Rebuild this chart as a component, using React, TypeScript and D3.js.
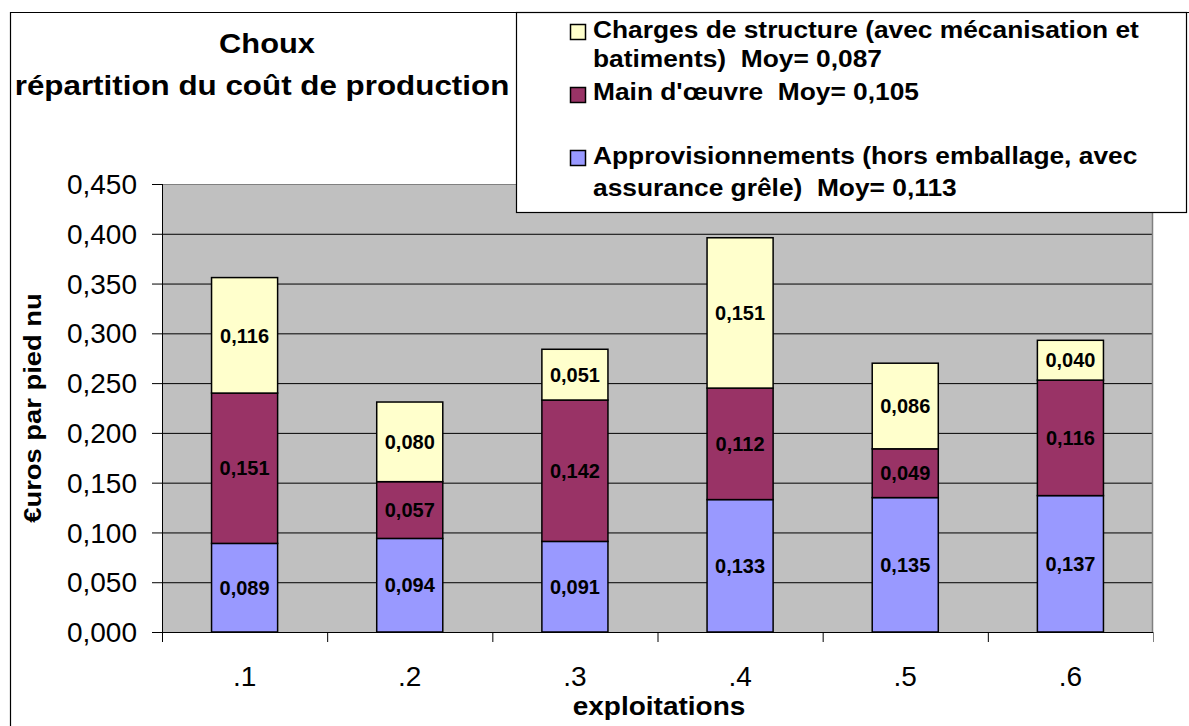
import React from "react";
import * as d3 from "d3";

const categories = [".1", ".2", ".3", ".4", ".5", ".6"];
const approvisionnements = [0.089, 0.094, 0.091, 0.133, 0.135, 0.137];
const mainOeuvre = [0.151, 0.057, 0.142, 0.112, 0.049, 0.116];
const chargesStructure = [0.116, 0.08, 0.051, 0.151, 0.086, 0.04];
const seriesNames = ["Approvisionnements", "Main d'œuvre", "Charges de structure"];
const yTicks = [0, 0.05, 0.1, 0.15, 0.2, 0.25, 0.3, 0.35, 0.4, 0.45];
const titleLines = ["Choux", "répartition du coût de production"];
const legendLines = [
  "Charges de structure (avec mécanisation et",
  "batiments)  Moy= 0,087",
  "Main d'œuvre  Moy= 0,105",
  "Approvisionnements (hors emballage, avec",
  "assurance grêle)  Moy= 0,113",
];
const yTitle = "€uros par pied nu";
const xTitle = "exploitations";

const colors = ["#9999FF", "#993366", "#FFFFCC"];
const FONT = "'Liberation Sans', Arial, Helvetica, sans-serif";

export default function App() {
  const W = 1189, H = 726;
  const plotL = 162, plotR = 1153, plotT = 184, plotB = 632;
  const x = d3.scaleBand().domain(categories).range([plotL, plotR]).paddingInner(0.6).paddingOuter(0.3);
  const y = d3.scaleLinear().domain([0, 0.45]).range([plotB, plotT]);
  const table = categories.map((c, i) => ({
    cat: c,
    appro: approvisionnements[i],
    main: mainOeuvre[i],
    charges: chargesStructure[i],
  }));
  const stack = d3.stack<any>().keys(["appro", "main", "charges"])(table);
  const fmt = (v: number) => d3.format(".3f")(v).replace(".", ",");
  const step = x.step();
  const boundaries = d3.range(categories.length + 1).map((i) => plotL + i * step);

  const legendBaselines = [38, 67, 100, 164, 196];
  const swatches = [
    { color: colors[2], y: 24 },
    { color: colors[1], y: 87 },
    { color: colors[0], y: 150 },
  ];

  return (
    <svg width={W} height={H} style={{ position: "absolute", left: 0, top: 0, background: "#fff" }} fontFamily={FONT}>
      <rect x={0} y={0} width={W} height={H} fill="#fff" />
      {/* outer frame */}
      <path d={`M10.5,${H + 2} V12.5 H${W + 2}`} fill="none" stroke="#000" strokeWidth={1.2} />

      {/* title */}
      <g transform={`translate(267,53) scale(1.1,1)`}>
        <text textAnchor="middle" fontSize={28} fontWeight="bold" fill="#000">{titleLines[0]}</text>
      </g>
      <g transform={`translate(262,95) scale(1.12,1)`}>
        <text textAnchor="middle" fontSize={28} fontWeight="bold" fill="#000">{titleLines[1]}</text>
      </g>

      {/* plot area */}
      <rect x={plotL} y={plotT} width={plotR - plotL} height={plotB - plotT} fill="#C0C0C0" />
      {yTicks.map((t) => (
        <line key={"g" + t} x1={plotL} x2={plotR} y1={y(t) + 0.5} y2={y(t) + 0.5} stroke={t === 0.45 ? "#808080" : "#000"} strokeWidth={1} />
      ))}
      <line x1={plotR - 0.5} x2={plotR - 0.5} y1={plotT} y2={plotB} stroke="#808080" strokeWidth={1.5} />

      {/* bars */}
      {stack.map((s, si) =>
        s.map((d, i) => (
          <rect
            key={si + "-" + i}
            x={x(categories[i])}
            y={y(d[1])}
            width={x.bandwidth()}
            height={y(d[0]) - y(d[1])}
            fill={colors[si]}
            stroke="#000"
            strokeWidth={1.5}
          />
        ))
      )}
      {stack.map((s, si) =>
        s.map((d, i) => (
          <text
            key={"l" + si + "-" + i}
            x={(x(categories[i]) as number) + x.bandwidth() / 2}
            y={(y(d[0]) + y(d[1])) / 2}
            dy="0.36em"
            textAnchor="middle"
            fontSize={20}
            fontWeight="bold"
            fill="#000"
          >
            {fmt(d[1] - d[0])}
          </text>
        ))
      )}

      {/* axes */}
      <line x1={plotL + 0.5} x2={plotL + 0.5} y1={plotT} y2={plotB} stroke="#000" strokeWidth={1} />
      <line x1={plotL - 10} x2={plotR} y1={plotB + 0.5} y2={plotB + 0.5} stroke="#000" strokeWidth={1} />
      {yTicks.map((t) => (
        <g key={"t" + t}>
          <line x1={plotL - 10} x2={plotL} y1={y(t) + 0.5} y2={y(t) + 0.5} stroke="#000" strokeWidth={1} />
          <text x={137} y={y(t)} dy="0.36em" textAnchor="end" fontSize={28} fill="#000">
            {fmt(t)}
          </text>
        </g>
      ))}
      {boundaries.map((b, i) => (
        <line key={"xb" + i} x1={b + 0.5} x2={b + 0.5} y1={plotB} y2={plotB + 10} stroke={i === boundaries.length - 1 ? "#808080" : "#000"} strokeWidth={1} />
      ))}
      {categories.map((c) => (
        <text key={"xl" + c} x={(x(c) as number) + x.bandwidth() / 2} y={686} textAnchor="middle" fontSize={28} fill="#000">
          {c}
        </text>
      ))}
      <g transform={`translate(659,715) scale(1.12,1)`}>
        <text textAnchor="middle" fontSize={25} fontWeight="bold" fill="#000">{xTitle}</text>
      </g>
      <g transform={`translate(41,${(plotT + plotB) / 2}) rotate(-90) scale(1.14,1)`}>
        <text textAnchor="middle" fontSize={24} fontWeight="bold" fill="#000">{yTitle}</text>
      </g>

      {/* legend */}
      <rect x={516.5} y={12.5} width={670} height={200} fill="#fff" stroke="#000" strokeWidth={1.2} />
      {swatches.map((s, i) => (
        <rect key={"sw" + i} x={570.5} y={s.y + 0.5} width={15} height={15} fill={s.color} stroke="#000" strokeWidth={1.5} />
      ))}
      {legendLines.map((l, i) => (
        <g key={"lg" + i} transform={`translate(593,${legendBaselines[i]}) scale(1.145,1)`}>
          <text fontSize={23} fontWeight="bold" fill="#000" style={{ whiteSpace: "pre" }}>
            {l}
          </text>
        </g>
      ))}
      <title>{seriesNames.join(", ")}</title>
    </svg>
  );
}
